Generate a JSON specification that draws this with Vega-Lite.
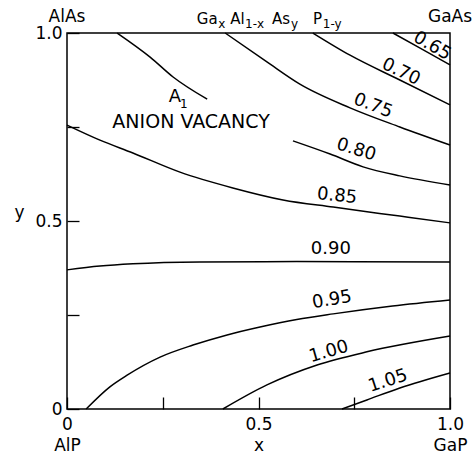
{
  "$schema": "https://vega.github.io/schema/vega-lite/v6.json",
  "width": 383,
  "height": 376,
  "autosize": "none",
  "padding": {"left": 67, "top": 33, "right": 23, "bottom": 44},
  "background": "white",
  "config": {
    "font": "DejaVu Sans",
    "view": {"stroke": "black", "strokeWidth": 1.5},
    "axis": {"domain": false, "grid": false, "tickColor": "black", "tickWidth": 1.3, "labelColor": "black", "titleColor": "black", "labelFontSize": 17, "titleFontSize": 17, "titleFontWeight": "normal"}
  },
  "datasets": {
    "curves": [
      {"c": "A1", "x": 0.131, "y": 1.0}, {"c": "A1", "x": 0.217, "y": 0.936}, {"c": "A1", "x": 0.277, "y": 0.883}, {"c": "A1", "x": 0.366, "y": 0.824},
      {"c": "0.65", "x": 0.851, "y": 1.0}, {"c": "0.65", "x": 0.922, "y": 0.96}, {"c": "0.65", "x": 1.0, "y": 0.915},
      {"c": "0.70", "x": 0.642, "y": 1.0}, {"c": "0.70", "x": 0.739, "y": 0.941}, {"c": "0.70", "x": 0.869, "y": 0.875}, {"c": "0.70", "x": 1.0, "y": 0.809},
      {"c": "0.75", "x": 0.413, "y": 1.0}, {"c": "0.75", "x": 0.522, "y": 0.923}, {"c": "0.75", "x": 0.608, "y": 0.864}, {"c": "0.75", "x": 0.739, "y": 0.801}, {"c": "0.75", "x": 0.869, "y": 0.75}, {"c": "0.75", "x": 1.0, "y": 0.702},
      {"c": "0.80", "x": 0.59, "y": 0.713}, {"c": "0.80", "x": 0.687, "y": 0.678}, {"c": "0.80", "x": 0.773, "y": 0.644}, {"c": "0.80", "x": 0.869, "y": 0.62}, {"c": "0.80", "x": 1.0, "y": 0.596},
      {"c": "0.85", "x": 0.0, "y": 0.755}, {"c": "0.85", "x": 0.086, "y": 0.715}, {"c": "0.85", "x": 0.172, "y": 0.681}, {"c": "0.85", "x": 0.295, "y": 0.63}, {"c": "0.85", "x": 0.433, "y": 0.588}, {"c": "0.85", "x": 0.564, "y": 0.556}, {"c": "0.85", "x": 0.695, "y": 0.537}, {"c": "0.85", "x": 0.869, "y": 0.513}, {"c": "0.85", "x": 1.0, "y": 0.495},
      {"c": "0.90", "x": 0.0, "y": 0.37}, {"c": "0.90", "x": 0.086, "y": 0.38}, {"c": "0.90", "x": 0.172, "y": 0.386}, {"c": "0.90", "x": 0.347, "y": 0.391}, {"c": "0.90", "x": 0.6, "y": 0.392}, {"c": "0.90", "x": 1.0, "y": 0.391},
      {"c": "0.95", "x": 0.05, "y": 0.0}, {"c": "0.95", "x": 0.112, "y": 0.059}, {"c": "0.95", "x": 0.157, "y": 0.09}, {"c": "0.95", "x": 0.243, "y": 0.138}, {"c": "0.95", "x": 0.329, "y": 0.17}, {"c": "0.95", "x": 0.418, "y": 0.197}, {"c": "0.95", "x": 0.504, "y": 0.218}, {"c": "0.95", "x": 0.6, "y": 0.238}, {"c": "0.95", "x": 0.695, "y": 0.253}, {"c": "0.95", "x": 0.85, "y": 0.274}, {"c": "0.95", "x": 1.0, "y": 0.29},
      {"c": "1.00", "x": 0.407, "y": 0.0}, {"c": "1.00", "x": 0.522, "y": 0.064}, {"c": "1.00", "x": 0.653, "y": 0.117}, {"c": "1.00", "x": 0.783, "y": 0.152}, {"c": "1.00", "x": 1.0, "y": 0.194},
      {"c": "1.05", "x": 0.718, "y": 0.0}, {"c": "1.05", "x": 0.783, "y": 0.024}, {"c": "1.05", "x": 0.869, "y": 0.056}, {"c": "1.05", "x": 1.0, "y": 0.096}
    ],
    "labels": [
      {"t": "0.65", "x": 0.953, "y": 0.965},
      {"t": "0.70", "x": 0.872, "y": 0.896},
      {"t": "0.75", "x": 0.799, "y": 0.806},
      {"t": "0.80", "x": 0.755, "y": 0.689},
      {"t": "0.85", "x": 0.705, "y": 0.566},
      {"t": "0.90", "x": 0.689, "y": 0.426},
      {"t": "0.95", "x": 0.692, "y": 0.29},
      {"t": "1.00", "x": 0.684, "y": 0.152},
      {"t": "1.05", "x": 0.838, "y": 0.074},
      {"t": "ANION VACANCY", "x": 0.324, "y": 0.762},
      {"t": "A", "x": 0.282, "y": 0.83}
    ],
    "sublabels": [
      {"t": "1", "x": 0.305, "y": 0.81}
    ],
    "topmain": [
      {"t": "AlAs", "x": 0.0, "y": 1, "a": "center"},
      {"t": "GaAs", "x": 1.0, "y": 1, "a": "center"},
      {"t": "Ga", "x": 0.339, "y": 1, "a": "left"},
      {"t": "Al", "x": 0.426, "y": 1, "a": "left"},
      {"t": "As", "x": 0.535, "y": 1, "a": "left"},
      {"t": "P", "x": 0.642, "y": 1, "a": "left"}
    ],
    "topsub": [
      {"t": "x", "x": 0.395, "y": 1},
      {"t": "1-x", "x": 0.465, "y": 1},
      {"t": "y", "x": 0.585, "y": 1},
      {"t": "1-y", "x": 0.668, "y": 1}
    ]
  },
  "encoding": {
    "x": {"field": "x", "type": "quantitative", "scale": {"domain": [0, 1], "nice": false, "zero": false},
      "axis": {"values": [0, 0.25, 0.5, 0.75, 1], "labelExpr": "datum.value==0?['0','AlP']:datum.value==0.5?['0.5','x']:datum.value==1?['1.0','GaP']:''", "title": null, "tickSize": -12, "labelPadding": 19, "labelLineHeight": 21, "labelFlush": false, "labelOverlap": false}},
    "y": {"field": "y", "type": "quantitative", "scale": {"domain": [0, 1], "nice": false, "zero": false},
      "axis": {"values": [0, 0.25, 0.5, 0.75, 1], "labelExpr": "datum.value==0?'0':datum.value==0.5?'0.5':datum.value==1?'1.0':''", "title": "y", "titleAngle": 0, "titlePadding": 16, "tickSize": -12, "labelPadding": 17, "labelFlush": false, "labelOverlap": false}}
  },
  "layer": [
    {"data": {"name": "curves"}, "mark": {"type": "line", "color": "black", "strokeWidth": 1.5, "interpolate": "monotone"}, "encoding": {"detail": {"field": "c"}}},
    {"data": {"name": "labels"}, "transform": [{"filter": "datum.t=='0.65'"}], "mark": {"type": "text", "angle": 30, "fontSize": 18, "color": "black"}, "encoding": {"text": {"field": "t"}}},
    {"data": {"name": "labels"}, "transform": [{"filter": "datum.t=='0.70'"}], "mark": {"type": "text", "angle": 26, "fontSize": 18, "color": "black"}, "encoding": {"text": {"field": "t"}}},
    {"data": {"name": "labels"}, "transform": [{"filter": "datum.t=='0.75'"}], "mark": {"type": "text", "angle": 21, "fontSize": 18, "color": "black"}, "encoding": {"text": {"field": "t"}}},
    {"data": {"name": "labels"}, "transform": [{"filter": "datum.t=='0.80'"}], "mark": {"type": "text", "angle": 17, "fontSize": 18, "color": "black"}, "encoding": {"text": {"field": "t"}}},
    {"data": {"name": "labels"}, "transform": [{"filter": "datum.t=='0.85'"}], "mark": {"type": "text", "angle": 6, "fontSize": 18, "color": "black"}, "encoding": {"text": {"field": "t"}}},
    {"data": {"name": "labels"}, "transform": [{"filter": "datum.t=='0.90' || datum.t=='A'"}], "mark": {"type": "text", "angle": 0, "fontSize": 18, "color": "black"}, "encoding": {"text": {"field": "t"}}},
    {"data": {"name": "labels"}, "transform": [{"filter": "datum.t=='ANION VACANCY'"}], "mark": {"type": "text", "angle": 0, "fontSize": 19, "color": "black"}, "encoding": {"text": {"field": "t"}}},
    {"data": {"name": "labels"}, "transform": [{"filter": "datum.t=='0.95'"}], "mark": {"type": "text", "angle": -10, "fontSize": 18, "color": "black"}, "encoding": {"text": {"field": "t"}}},
    {"data": {"name": "labels"}, "transform": [{"filter": "datum.t=='1.00'"}], "mark": {"type": "text", "angle": -16, "fontSize": 18, "color": "black"}, "encoding": {"text": {"field": "t"}}},
    {"data": {"name": "labels"}, "transform": [{"filter": "datum.t=='1.05'"}], "mark": {"type": "text", "angle": -18, "fontSize": 18, "color": "black"}, "encoding": {"text": {"field": "t"}}},
    {"data": {"name": "sublabels"}, "mark": {"type": "text", "fontSize": 12, "color": "black"}, "encoding": {"text": {"field": "t"}}},
    {"data": {"name": "topmain"}, "transform": [{"filter": "datum.a=='center'"}], "mark": {"type": "text", "fontSize": 17, "color": "black", "align": "center", "baseline": "alphabetic", "dy": -11}, "encoding": {"text": {"field": "t"}}},
    {"data": {"name": "topmain"}, "transform": [{"filter": "datum.a=='left'"}], "mark": {"type": "text", "fontSize": 15, "color": "black", "align": "left", "baseline": "alphabetic", "dy": -9}, "encoding": {"text": {"field": "t"}}},
    {"data": {"name": "topsub"}, "mark": {"type": "text", "fontSize": 12, "color": "black", "align": "left", "baseline": "alphabetic", "dy": -5}, "encoding": {"text": {"field": "t"}}}
  ]
}
